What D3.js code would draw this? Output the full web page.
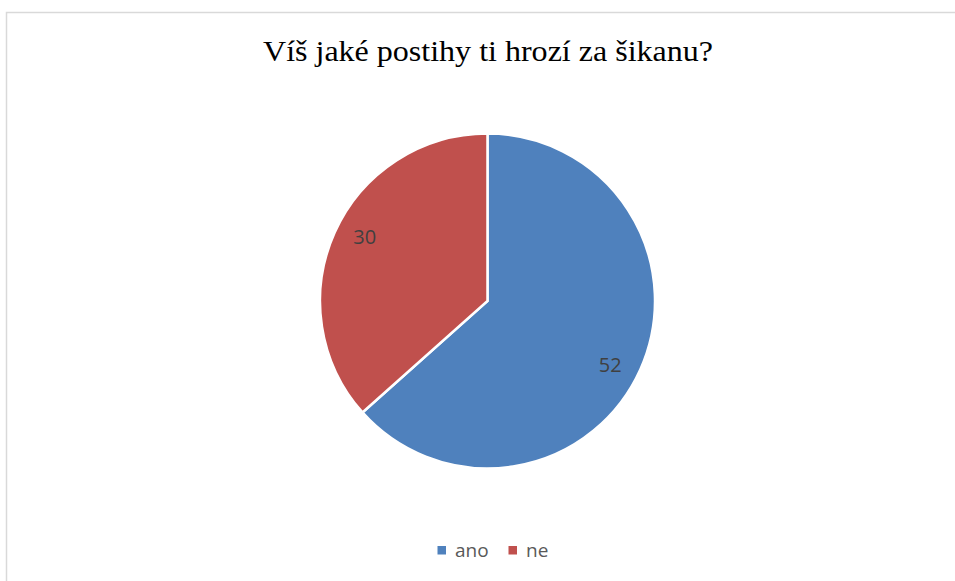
<!DOCTYPE html>
<html>
<head>
<meta charset="utf-8">
<script src="https://cdn.jsdelivr.net/npm/d3@7"></script>
<style>
html,body{margin:0;padding:0;background:#fff;}
svg{display:block;}
</style>
</head>
<body>
<svg id="chart" width="955" height="581"></svg>
<script>
const title = "Víš jaké postihy ti hrozí za šikanu?";
const categories = ["ano", "ne"];
const values = [52, 30];
const colors = ["#4F81BD", "#C0504D"];

const svg = d3.select("#chart");

// chart area border
svg.append("rect")
  .attr("x", 6.5).attr("y", 12.5)
  .attr("width", 960).attr("height", 580)
  .attr("fill", "#fff")
  .attr("stroke", "#d9d9d9").attr("stroke-width", 1.5);

// title
svg.append("text")
  .attr("x", 488).attr("y", 61)
  .attr("text-anchor", "middle")
  .attr("font-family", "'Liberation Serif','Times New Roman',serif")
  .attr("font-size", 29)
  .attr("textLength", 450)
  .attr("lengthAdjust", "spacingAndGlyphs")
  .attr("fill", "#000")
  .text(title);

const cx = 487.5, cy = 301, r = 167.5;
const data = categories.map((c, i) => ({cat: c, value: values[i], color: colors[i]}));
const pie = d3.pie().value(d => d.value).sort(null);
const arc = d3.arc().innerRadius(0).outerRadius(r);

const g = svg.append("g").attr("transform", `translate(${cx},${cy})`);
const arcs = pie(data);
g.selectAll("path").data(arcs).join("path")
  .attr("d", arc)
  .attr("fill", d => d.data.color)
  .attr("stroke", "#fff")
  .attr("stroke-width", 2.5)
  .attr("stroke-linejoin", "miter");

const labelR = r * 0.826;
g.selectAll("text.lbl").data(arcs).join("text")
  .attr("class", "lbl")
  .attr("transform", d => `translate(${d3.pointRadial((d.startAngle + d.endAngle) / 2 + 0.058, labelR)})`)
  .attr("text-anchor", "middle")
  .attr("dy", "0.36em")
  .attr("font-family", "'Open Sans','Liberation Sans',sans-serif")
  .attr("font-size", 20)
  .attr("fill", "#404040")
  .text(d => d.data.value);

// legend
const legendY = 550.5;
const legendX = [437.5, 508.5];
const lg = svg.append("g");
data.forEach((d, i) => {
  lg.append("rect")
    .attr("x", legendX[i]).attr("y", legendY - 4.5)
    .attr("width", 8.5).attr("height", 8.5)
    .attr("fill", d.color);
  lg.append("text")
    .attr("x", legendX[i] + 17.5).attr("y", legendY)
    .attr("dy", "0.36em")
    .attr("font-family", "'Open Sans','Liberation Sans',sans-serif")
    .attr("font-size", 19)
    .attr("fill", "#595959")
    .text(d.cat);
});
</script>
</body>
</html>
